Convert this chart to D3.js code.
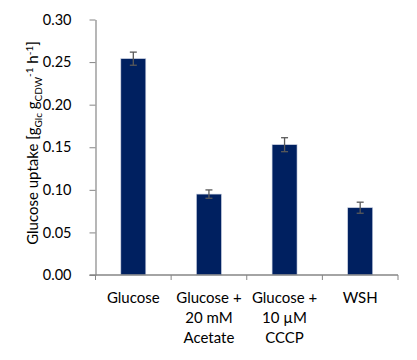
<!DOCTYPE html>
<html><head><meta charset="utf-8">
<script src="https://cdn.jsdelivr.net/npm/d3@7"></script>
<style>body{margin:0;background:#fff}svg{display:block}text{font-family:Lato,"Open Sans",sans-serif;fill:#000}</style>
</head><body><svg id="c" width="417" height="360"></svg>
<script>
const categories = [["Glucose"], ["Glucose +", "20 mM", "Acetate"], ["Glucose +", "10 µM", "CCCP"], ["WSH"]];
const values = [0.254, 0.095, 0.153, 0.079];
const errors = [0.0077, 0.0049, 0.0082, 0.0065];
const yTicks = [0, 0.05, 0.10, 0.15, 0.20, 0.25, 0.30];

const svg = d3.select("#c");
const m = {l: 95.5, r: 19, t: 19.5, b: 85};
const W = 417, H = 360;
const x = d3.scaleBand().domain(d3.range(categories.length)).range([m.l, W - m.r]).paddingInner(0.67).paddingOuter(0.335);
const xb = d3.scaleBand().domain(d3.range(categories.length)).range([m.l, W - m.r]);
const y = d3.scaleLinear().domain([0, 0.30]).range([H - m.b, m.t]);
const axisCol = "#868686";

// y axis
const ya = svg.append("g").attr("transform", `translate(${m.l},0)`)
  .call(d3.axisLeft(y).tickValues(yTicks).tickFormat(d3.format(".2f")).tickSize(6).tickSizeOuter(0));
ya.select(".domain").attr("stroke", axisCol).attr("stroke-width", 1.2);
ya.selectAll(".tick line").attr("stroke", axisCol);
ya.selectAll(".tick text").attr("font-size", 14.5).attr("x", -24).attr("fill", "#000").style("font-family", "Lato, sans-serif");

// bars
svg.append("g").selectAll("rect").data(values).join("rect")
  .attr("x", (d, i) => x(i)).attr("width", x.bandwidth())
  .attr("y", d => y(d)).attr("height", d => y(0) - y(d))
  .attr("fill", "#002060").attr("stroke", "#c8cfe0").attr("stroke-width", 0.6);

// error bars
const eg = svg.append("g").attr("stroke", "#595959").attr("stroke-width", 1.3);
values.forEach((v, i) => {
  const cx = x(i) + x.bandwidth() / 2;
  eg.append("line").attr("x1", cx).attr("x2", cx).attr("y1", y(v + errors[i])).attr("y2", y(v - errors[i]));
  eg.append("line").attr("x1", cx - 3.5).attr("x2", cx + 3.5).attr("y1", y(v + errors[i])).attr("y2", y(v + errors[i]));
  eg.append("line").attr("x1", cx - 3.5).attr("x2", cx + 3.5).attr("y1", y(v - errors[i])).attr("y2", y(v - errors[i]));
});

// x axis
const y0 = y(0);
svg.append("line").attr("x1", m.l - 6).attr("x2", W - m.r).attr("y1", y0).attr("y2", y0).attr("stroke", axisCol).attr("stroke-width", 1.3);
const bounds = d3.range(categories.length + 1).map(i => i < categories.length ? xb(i) : xb(i - 1) + xb.bandwidth());
bounds.forEach(b => svg.append("line").attr("x1", b).attr("x2", b).attr("y1", y0).attr("y2", y0 + 5).attr("stroke", axisCol));
categories.forEach((lines, i) => {
  const t = svg.append("text").attr("text-anchor", "middle").attr("font-size", 15)
    .attr("x", x(i) + x.bandwidth() / 2).attr("y", 303);
  lines.forEach((l, j) => t.append("tspan").attr("x", x(i) + x.bandwidth() / 2).attr("dy", j ? 20 : 0).text(l));
});

// y label
const yl = svg.append("text").attr("transform", `translate(38,143) rotate(-90)`)
  .attr("text-anchor", "middle").attr("font-size", 15);
yl.append("tspan").text("Glucose uptake [g");
yl.append("tspan").attr("font-size", 10).attr("dy", 4).text("Glc");
yl.append("tspan").attr("dy", -4).text(" g");
yl.append("tspan").attr("font-size", 10).attr("dy", 4).text("CDW");
yl.append("tspan").attr("font-size", 10).attr("dy", -9).text("-1");
yl.append("tspan").attr("dy", 5).text(" h");
yl.append("tspan").attr("font-size", 10).attr("dy", -5).text("-1");
yl.append("tspan").attr("dy", 5).text("]");
</script></body></html>
